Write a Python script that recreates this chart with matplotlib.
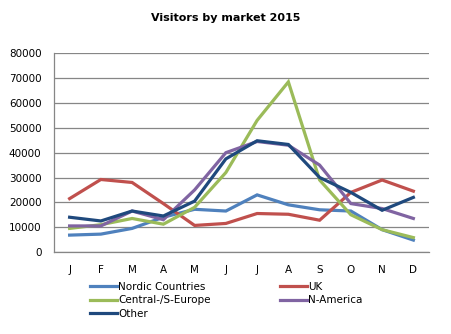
import matplotlib
matplotlib.use("Agg")
import matplotlib.pyplot as plt

months = ["J", "F", "M", "A", "M", "J", "J", "A", "S", "O", "N", "D"]
nordic = [6800, 7200, 9500, 14000, 17200, 16500, 23000, 19000, 17000, 16500, 9000, 4800]
uk = [21500, 29200, 28000, 19500, 10700, 11500, 15500, 15200, 12800, 24000, 29000, 24500]
central = [9500, 11000, 13500, 11200, 18000, 32000, 53000, 68500, 29000, 15000, 9000, 5800]
namerica = [10500, 10500, 16500, 13000, 25000, 40000, 44500, 43000, 35000, 19500, 17500, 13500]
other = [14000, 12500, 16500, 14500, 20500, 37500, 44800, 43300, 30000, 24000, 16800, 22000]
yticks = [0, 10000, 20000, 30000, 40000, 50000, 60000, 70000, 80000]

series = [
    ("Nordic Countries", nordic, "#4F81BD"),
    ("UK", uk, "#C0504D"),
    ("Central-/S-Europe", central, "#9BBB59"),
    ("N-America", namerica, "#8064A2"),
    ("Other", other, "#1F497D"),
]

plt.rcParams['font.family'] = ['DejaVu Sans']
fig = plt.figure(figsize=(4.51, 3.34), dpi=100)
ax = fig.add_axes([0.1197, 0.2455, 0.8315, 0.5948])
x = list(range(len(months)))
handles = {}
for name, vals, col in series:
    ln, = ax.plot(x, vals, color=col, lw=2.3, label=name, solid_joinstyle='miter')
    handles[name] = ln

ax.set_xlim(-0.5, 11.5)
ax.set_ylim(0, 80000)
ax.set_yticks(yticks)
ax.set_yticklabels([str(v) for v in yticks], fontsize=7.5)
ax.set_xticks(x)
ax.set_xticklabels(months, fontsize=7.5)
ax.tick_params(axis='both', length=0)
ax.tick_params(axis='y', pad=9)
ax.tick_params(axis='x', pad=9)
ax.grid(axis='y', color='#868686', lw=0.9)
ax.set_axisbelow(True)
for s in ['top', 'right']:
    ax.spines[s].set_visible(False)
for s in ['left', 'bottom']:
    ax.spines[s].set_color('#868686')
    ax.spines[s].set_linewidth(0.9)

fig.text(0.5, 0.945, "Visitors by market 2015", ha='center', va='center',
         fontsize=8, fontweight='bold')

order = ["Nordic Countries", "Central-/S-Europe", "Other", "UK", "N-America"]
fig.legend([handles[n] for n in order], order, loc='upper left',
           bbox_to_anchor=(0.2, 0.157), ncol=2, frameon=False, fontsize=7.5,
           handlelength=2.6, handletextpad=0.1, columnspacing=6.6,
           labelspacing=0.35, borderpad=0, borderaxespad=0)

fig.savefig("out.png", dpi=100)
